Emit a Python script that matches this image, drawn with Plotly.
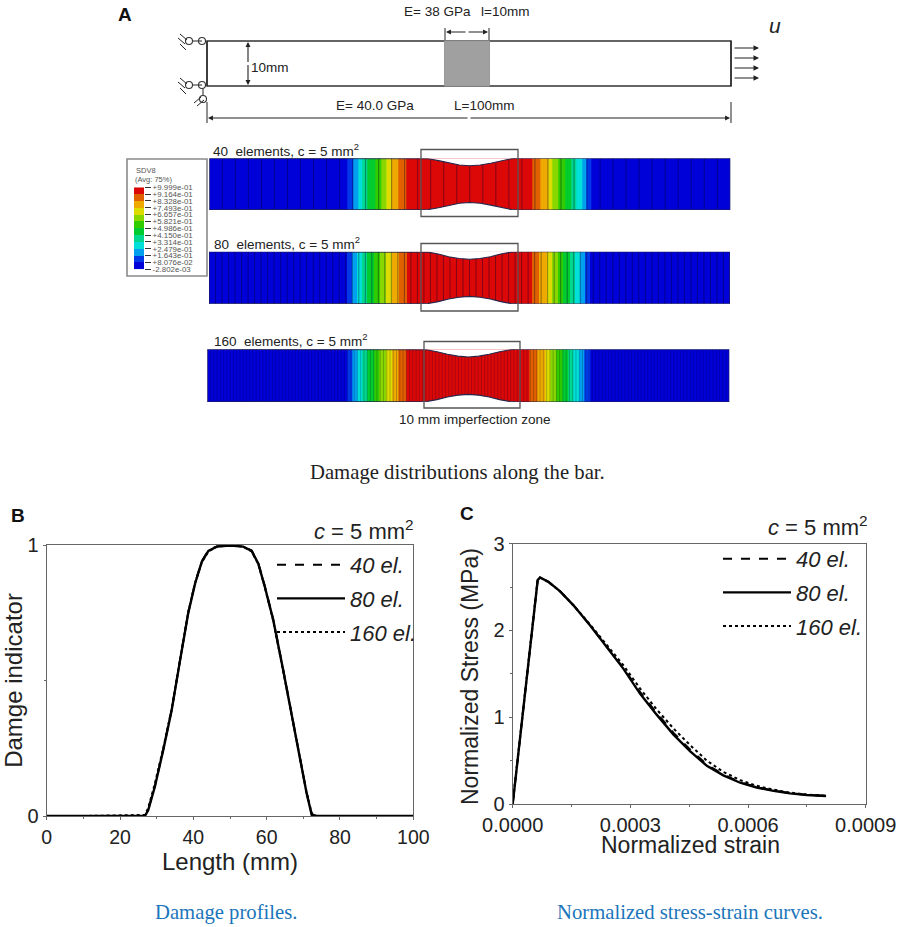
"""Bar under tension: damage contours, damage profiles and stress-strain curves."""

from __future__ import annotations

import numpy as np
import plotly.graph_objects as go

WIDTH = 899
HEIGHT = 927

# Panel B: damage profile along the bar
length_mm = [0, 10, 26.8, 27.7, 29.5, 31.8, 34.1, 36.4, 38.6, 40.5, 42.3, 44.1, 46.4, 50,
             53.6, 55.9, 57.7, 59.5, 61.8, 64.5, 66.8, 69.1, 70.9, 72.3, 73.6, 90, 100]
damage_40 = [0, 0, 0, .024, .110, .246, .393, .578, .750, .861, .940, .980, .995, .999,
             .995, .980, .934, .848, .725, .541, .381, .221, .086, .006, 0, 0, 0]
damage_80 = [0, 0, 0, .022, .108, .244, .391, .576, .748, .859, .938, .978, .994, .998,
             .994, .978, .932, .846, .723, .539, .379, .219, .084, .004, 0, 0, 0]
damage_160 = [0, 0, .004, .030, .120, .250, .396, .580, .752, .862, .936, .976, .994, .998,
              .994, .976, .930, .844, .720, .535, .376, .216, .086, .010, 0, 0, 0]

# Panel C: normalized stress-strain curves
strain = [0, .0000637, .0000697, .000091, .000121, .000155, .000197, .00024, .000282,
          .000325, .000367, .00041, .000452, .000495, .000537, .00058, .000622, .000665,
          .000707, .00075, .000799]
stress_40 = [0, 2.58, 2.61, 2.56, 2.45, 2.29, 2.06, 1.81, 1.57, 1.29, 1.05, .82, .63, .455,
             .34, .25, .195, .155, .125, .105, .092]
stress_80 = [0, 2.58, 2.61, 2.56, 2.45, 2.29, 2.06, 1.81, 1.56, 1.27, 1.03, .80, .61, .44,
             .33, .245, .19, .152, .122, .104, .092]
stress_160 = [0, 2.58, 2.61, 2.56, 2.45, 2.29, 2.07, 1.83, 1.60, 1.33, 1.09, .87, .68, .50,
              .37, .275, .21, .165, .132, .108, .095]

series_names = ["40 el.", "80 el.", "160 el."]
series_dashes = ["dash", "solid", "dot"]

# Panel A: contour bands along each bar (mm), one level per band
contour_levels = [0, 1, 2, 3, 4, 5, 6, 7, 8, 9, 10, 11, 10, 9, 8, 7, 6, 5, 4, 3, 2, 1, 0]
band_edges_40 = [0, 26.5, 27.6, 28.6, 29.4, 30.3, 31.8, 33, 34, 35, 36.3, 37.9, 62, 63.6,
                 65.1, 65.9, 67, 68.3, 69.5, 70.5, 71.5, 72.4, 73.4, 100]
band_edges_80 = [0, 26.5, 27.5, 28.4, 29.3, 30.3, 31.7, 32.8, 34, 35.1, 36.4, 38, 61.9, 63.4,
                 64.9, 65.8, 67, 68, 69.2, 70.2, 71.2, 72.1, 73.2, 100]
band_edges_160 = [0, 26.8, 27.8, 28.7, 29.6, 30.6, 31.9, 33, 34.2, 35.4, 36.6, 38.2, 61.7,
                  63.2, 64.7, 65.7, 66.8, 68, 69.2, 70.2, 71.2, 72.2, 73.4, 100]
element_counts = [40, 80, 160]
neck_mm = [40.6, 42, 44, 46, 48, 50, 52, 54, 56, 58, 59.4]
neck_depth_mm = [0, .08, .45, .95, 1.3, 1.45, 1.3, .95, .45, .08, 0]

# Contour legend
level_values = [-2.802e-03, 8.076e-02, 1.643e-01, 2.479e-01, 3.314e-01, 4.150e-01, 4.986e-01,
                5.821e-01, 6.657e-01, 7.493e-01, 8.328e-01, 9.164e-01, 9.999e-01]
level_labels = ["-2.802e-03", "+8.076e-02", "+1.643e-01", "+2.479e-01", "+3.314e-01",
                "+4.150e-01", "+4.986e-01", "+5.821e-01", "+6.657e-01", "+7.493e-01",
                "+8.328e-01", "+9.164e-01", "+9.999e-01"]
level_colors = ["#0000d8", "#0038e8", "#00a0ee", "#00e0d8", "#00d890", "#00cc30",
                "#30cc00", "#88d800", "#dcdc00", "#eeaa00", "#e06000", "#dc0808"]

INK = "#222222"
AXIS_GREY = "#666666"
CAPTION_BLUE = "#1b75bb"
SANS = "Liberation Sans"
SERIF = "Liberation Serif"


def dom_x(left: float, right: float) -> list[float]:
    return [left / WIDTH, right / WIDTH]


def dom_y(top: float, bottom: float) -> list[float]:
    return [1 - bottom / HEIGHT, 1 - top / HEIGHT]


def discrete_scale(colors: list[str]) -> list[list]:
    scale = []
    for i, color in enumerate(colors):
        scale.append([i / len(colors), color])
        scale.append([(i + 1) / len(colors), color])
    return scale


fig = go.Figure()
annotations: list[dict] = []
shapes: list[dict] = []
layout_axes: dict = {}


def label(x, y, text, size=13.5, family=SANS, color=INK, anchor="center", angle=0):
    annotations.append(dict(
        x=x, y=y, xref="x", yref="y", text=text, showarrow=False, xanchor=anchor,
        yanchor="middle", textangle=angle, font=dict(family=family, size=size, color=color),
    ))


def arrow(x0, y0, x1, y1, head=2, size=0.9):
    annotations.append(dict(
        x=x1, y=y1, ax=x0, ay=y0, xref="x", yref="y", axref="x", ayref="y", text="",
        showarrow=True, arrowhead=head, arrowsize=size, arrowwidth=1.1, arrowcolor=INK,
    ))


def double_arrow(x0, y0, x1, y1):
    mid_x, mid_y = (x0 + x1) / 2, (y0 + y1) / 2
    arrow(mid_x, mid_y, x0, y0)
    arrow(mid_x, mid_y, x1, y1)


def segments(pairs, width=1.0, color=INK):
    xs, ys = [], []
    for x0, y0, x1, y1 in pairs:
        xs += [x0, x1, None]
        ys += [y0, y1, None]
    fig.add_trace(go.Scatter(x=xs, y=ys, mode="lines", line=dict(color=color, width=width),
                             hoverinfo="skip", showlegend=False, xaxis="x", yaxis="y"))


# --- page-wide axis in pixels, holds the schematic and all loose text ---
layout_axes["xaxis"] = dict(domain=[0, 1], range=[0, WIDTH], visible=False, fixedrange=True)
layout_axes["yaxis"] = dict(domain=[0, 1], range=[HEIGHT, 0], visible=False, fixedrange=True)

shapes.append(dict(type="rect", xref="x", yref="y", x0=207, y0=41, x1=731, y1=86,
                   line=dict(color="#333333", width=1.6), layer="below"))
shapes.append(dict(type="rect", xref="x", yref="y", x0=444.5, y0=41, x1=489.5, y1=86,
                   fillcolor="#a0a0a0", line=dict(color="#9a9a9a", width=1), layer="below"))
shapes.append(dict(type="rect", xref="x", yref="y", x0=127, y0=159, x1=207, y1=276,
                   fillcolor="white", line=dict(color="#8a8a8a", width=1.6), layer="below"))

segments([
    (207, 41, 207, 86), (731, 41, 731, 86),
    (445, 28, 445, 40), (489, 28, 489, 40),
    (207, 102, 207, 123), (731, 102, 731, 123),
    (193, 41, 202, 41), (193, 85, 202, 85), (203, 89, 203, 95),
    (180, 34, 187, 40), (178, 38, 185, 44), (180, 44, 186, 50),
    (180, 78, 187, 84), (178, 82, 185, 88), (180, 88, 186, 94),
    (194, 103, 201, 97), (197, 106, 204, 100),
], width=1.0)
fig.add_trace(go.Scatter(
    x=[189, 202, 189, 202, 203], y=[41, 41, 85, 85, 99], mode="markers",
    marker=dict(symbol="circle-open", size=7, color="#333333", line=dict(width=1.1)),
    hoverinfo="skip", showlegend=False, xaxis="x", yaxis="y",
))

double_arrow(446, 32, 488, 32)
double_arrow(248, 42, 248, 85)
double_arrow(208, 118, 730, 118)
for arrow_y in [48, 58, 68, 78]:
    arrow(733, arrow_y, 759, arrow_y, head=2, size=1.0)

label(125, 14, "<b>A</b>", size=19, color="#111111")
label(18, 515, "<b>B</b>", size=19, color="#111111")
label(467, 513, "<b>C</b>", size=19, color="#111111")
label(437, 11, "E= 38 GPa")
label(505, 11, "l=10mm")
label(270, 67, "10mm")
label(375, 105, "E= 40.0 GPa")
label(484, 105, "L=100mm")
label(775, 25, "<i>u</i>", size=21)

label(211, 150, "40  elements, c = 5 mm<sup>2</sup>", anchor="left")
label(212, 243, "80  elements, c = 5 mm<sup>2</sup>", anchor="left")
label(212, 340, "160  elements, c = 5 mm<sup>2</sup>", anchor="left")
label(475, 419, "10 mm imperfection zone")
label(134, 170, "SDV8", size=7.5, color="#555555", anchor="left")
label(133, 179, "(Avg: 75%)", size=7.5, color="#555555", anchor="left")

label(457, 472, "Damage distributions along the bar.", size=20.7, family=SERIF)
label(226, 912, "Damage profiles.", size=20.7, family=SERIF, color=CAPTION_BLUE)
label(690, 912, "Normalized stress-strain curves.", size=20.7, family=SERIF, color=CAPTION_BLUE)
label(364, 530, "<i>c</i> = 5 mm<sup>2</sup>", size=22)
label(818, 526, "<i>c</i> = 5 mm<sup>2</sup>", size=22)

# panel C titles sit closer to the axes than a plotly axis title can
label(690, 845, "Normalized strain", size=23)
label(470, 677, "Normalized Stress (MPa)", size=23, angle=-90)

for left, right, top, bottom in [(421, 518, 149.5, 216.5), (421, 518, 243.5, 311),
                                 (424, 520, 341.5, 408)]:
    shapes.append(dict(type="rect", xref="x", yref="y", x0=left, x1=right, y0=top, y1=bottom,
                       line=dict(color="#555555", width=1.3), layer="above"))

# --- contour bars, each on its own axes in millimetres ---
bars = [
    (band_edges_40, element_counts[0], (209.3, 730.3, 158.3, 210)),
    (band_edges_80, element_counts[1], (209, 730, 251.7, 304)),
    (band_edges_160, element_counts[2], (207.3, 729.3, 349.3, 402)),
]
for index, (edges, count, (left, right, top, bottom)) in enumerate(bars):
    axis_id = index + 2
    x_name, y_name = f"x{axis_id}", f"y{axis_id}"
    layout_axes[f"xaxis{axis_id}"] = dict(domain=dom_x(left, right), range=[0, 100],
                                          visible=False, anchor=y_name, fixedrange=True)
    layout_axes[f"yaxis{axis_id}"] = dict(domain=dom_y(top, bottom), range=[0, 10],
                                          visible=False, anchor=x_name, fixedrange=True)
    fig.add_trace(go.Heatmap(
        x=edges, y=[0, 10], z=[contour_levels], zmin=-0.5, zmax=11.5,
        colorscale=discrete_scale(level_colors), showscale=False, hoverinfo="skip",
        xaxis=x_name, yaxis=y_name,
    ))

    mesh_x, mesh_y = [], []
    for edge in np.arange(1, count) * 100 / count:
        depth = float(np.interp(edge, neck_mm, neck_depth_mm))
        mesh_x += [edge, edge, None]
        mesh_y += [depth, 10 - depth, None]
    fig.add_trace(go.Scatter(
        x=mesh_x, y=mesh_y, mode="lines", hoverinfo="skip", showlegend=False,
        line=dict(color="rgba(0,0,40,0.45)", width=0.9 if count < 160 else 0.5),
        xaxis=x_name, yaxis=y_name,
    ))

    top_edge = [10 - d for d in neck_depth_mm]
    for edge_y, flat_y in [(top_edge, 10), (neck_depth_mm, 0)]:
        fig.add_trace(go.Scatter(
            x=neck_mm, y=edge_y, mode="lines", fill="toself", fillcolor="white",
            line=dict(color="white", width=0), hoverinfo="skip", showlegend=False,
            xaxis=x_name, yaxis=y_name,
        ))
        fig.add_trace(go.Scatter(
            x=[0] + neck_mm + [100], y=[flat_y] + edge_y + [flat_y], mode="lines",
            line=dict(color="#24264a", width=1.1), hoverinfo="skip", showlegend=False,
            cliponaxis=False, xaxis=x_name, yaxis=y_name,
        ))
    fig.add_trace(go.Scatter(
        x=[0, 0, None, 100, 100], y=[0, 10, None, 0, 10], mode="lines",
        line=dict(color="#24264a", width=1.1), hoverinfo="skip", showlegend=False,
        cliponaxis=False, xaxis=x_name, yaxis=y_name,
    ))

# --- contour legend ---
layout_axes["xaxis5"] = dict(domain=dom_x(134, 144), range=[0, 1], visible=False, anchor="y5",
                             fixedrange=True)
layout_axes["yaxis5"] = dict(
    domain=dom_y(187.3, 269.3), range=[level_values[0], level_values[-1]], anchor="x5",
    side="right", tickmode="array", tickvals=level_values, ticktext=level_labels,
    ticks="outside", ticklen=6, tickwidth=1, tickcolor="#333333", showgrid=False,
    zeroline=False, showline=False, fixedrange=True,
    tickfont=dict(family=SANS, size=7.9, color="#555555"),
)
fig.add_trace(go.Heatmap(
    x=[0, 1], y=level_values, z=[[i] for i in range(12)], zmin=-0.5, zmax=11.5,
    colorscale=discrete_scale(level_colors), showscale=False, hoverinfo="skip",
    xaxis="x5", yaxis="y5",
))


def curve_axis(domain, value_range, dtick, minor_dtick, tick_size, title=None, **extra):
    axis = dict(
        domain=domain, range=value_range, dtick=dtick, tick0=0, automargin=False,
        minor=dict(dtick=minor_dtick, ticks="outside", ticklen=2, tickcolor=AXIS_GREY),
        ticks="outside", ticklen=3, tickcolor=AXIS_GREY, showline=True, mirror=True,
        linecolor=AXIS_GREY, linewidth=1.4, showgrid=False, zeroline=False, fixedrange=True,
        tickfont=dict(family=SANS, size=tick_size, color=INK),
        **extra,
    )
    if title:
        axis["title"] = dict(text=title, standoff=2, font=dict(family=SANS, size=24, color=INK))
    return axis


# --- panel B ---
layout_axes["xaxis6"] = curve_axis(dom_x(46.7, 413.3), [0, 100], 20, 10, 19.5, "Length (mm)",
                                   anchor="y6")
layout_axes["yaxis6"] = curve_axis(dom_y(545, 816), [0, 1], 1, 0.5, 20, "Damge indicator",
                                   anchor="x6")
# --- panel C ---
layout_axes["xaxis7"] = curve_axis(dom_x(512.7, 865.7), [0, 0.0009], 0.0003, 0.00015, 20,
                                   anchor="y7", tickformat=".4f")
layout_axes["yaxis7"] = curve_axis(dom_y(543.7, 804), [0, 3], 1, 0.5, 20, anchor="x7")

for name, dash, values in zip(series_names, series_dashes, [damage_40, damage_80, damage_160]):
    fig.add_trace(go.Scatter(
        x=length_mm, y=values, mode="lines", name=name, legendgroup=name, legend="legend",
        line=dict(color="black", dash=dash, width=2.4 if dash == "solid" else 2),
        cliponaxis=False, xaxis="x6", yaxis="y6",
    ))
for name, dash, values in zip(series_names, series_dashes, [stress_40, stress_80, stress_160]):
    fig.add_trace(go.Scatter(
        x=strain, y=values, mode="lines", name=name, legendgroup=name, legend="legend2",
        line=dict(color="black", dash=dash, width=2.4 if dash == "solid" else 2),
        cliponaxis=False, xaxis="x7", yaxis="y7",
    ))

legend_style = dict(
    orientation="v", xanchor="left", yanchor="top", bgcolor="rgba(0,0,0,0)", itemwidth=68,
    traceorder="grouped", tracegroupgap=2, itemclick=False, itemdoubleclick=False,
    font=dict(family=SANS, size=22, color=INK, style="italic"),
)

fig.update_layout(
    width=WIDTH, height=HEIGHT, margin=dict(l=0, r=0, t=0, b=0, autoexpand=False),
    paper_bgcolor="white", plot_bgcolor="rgba(0,0,0,0)",
    annotations=annotations, shapes=shapes,
    legend=dict(x=272 / WIDTH, y=1 - 544 / HEIGHT, **legend_style),
    legend2=dict(x=718 / WIDTH, y=1 - 538 / HEIGHT, **legend_style),
    **layout_axes,
)

fig.write_html("out.html", config={"displayModeBar": False},
               post_script="document.body.style.margin='0';")
